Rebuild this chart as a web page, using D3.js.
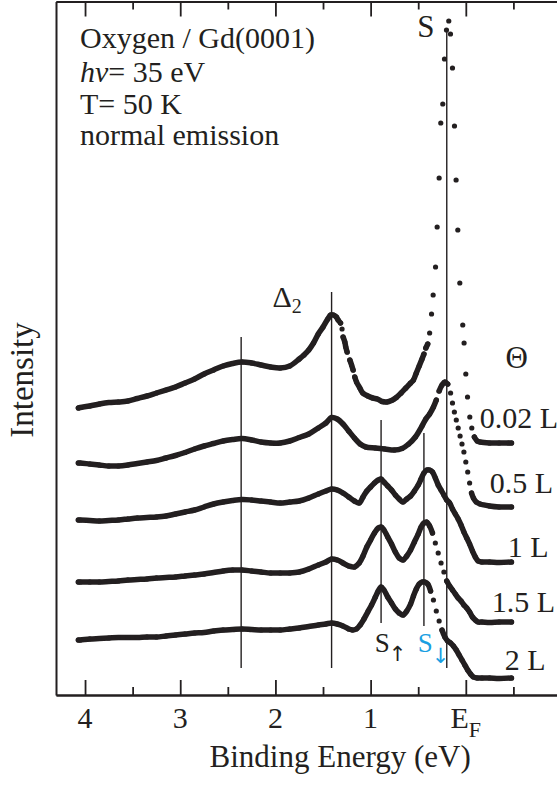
<!DOCTYPE html>
<html>
<head>
<meta charset="utf-8">
<script src="https://cdn.jsdelivr.net/npm/d3@7"></script>
<style>
  body { margin: 0; background: #fff; }
  svg text { font-family: "Liberation Serif", "Times New Roman", serif; fill: #231f20; }
</style>
</head>
<body>
<svg id="chart" width="557" height="785"></svg>
<script>
// Spectra, [binding energy (eV), intensity (arb. units, offset as plotted)]
const cov002 = [[4.07,2.87],[4.05,2.875],[3.95,2.89],[3.85,2.91],[3.75,2.925],[3.65,2.93],[3.55,2.94],[3.45,2.965],[3.35,2.99],[3.25,3.02],[3.15,3.05],[3.05,3.08],[2.95,3.12],[2.85,3.16],[2.75,3.21],[2.65,3.25],[2.55,3.29],[2.45,3.315],[2.35,3.33],[2.25,3.32],[2.15,3.30],[2.05,3.28],[1.95,3.27],[1.85,3.29],[1.75,3.36],[1.7,3.40],[1.65,3.45],[1.6,3.52],[1.55,3.61],[1.5,3.68],[1.45,3.76],[1.42,3.80],[1.39,3.80],[1.36,3.78],[1.341,3.75],[1.316,3.72],[1.30,3.66],[1.289,3.58],[1.271,3.53],[1.261,3.48],[1.247,3.43],[1.218,3.35],[1.200,3.30],[1.184,3.25],[1.166,3.18],[1.148,3.13],[1.113,3.07],[1.082,3.02],[1.029,2.99],[0.977,2.97],[0.93,2.96],[0.88,2.935],[0.83,2.93],[0.78,2.945],[0.73,2.975],[0.68,3.02],[0.63,3.07],[0.58,3.12],[0.55,3.15],[0.52,3.22],[0.49,3.29],[0.46,3.36],[0.44,3.41],[0.42,3.47],[0.40,3.51],[0.38,3.62],[0.36,3.81],[0.343,4.00],[0.318,4.28],[0.301,4.68],[0.280,5.17],[0.263,5.72],[0.242,5.91],[0.224,6.36],[0.203,6.65],[0.179,6.74],[0.161,6.61],[0.140,6.27],[0.119,5.69],[0.102,5.15],[0.084,4.65],[0.063,4.12],[0.032,3.70],[0.018,3.52],[0.0,3.21],[-0.018,2.98],[-0.042,2.78],[-0.063,2.67],[-0.09,2.58],[-0.12,2.54],[-0.15,2.53],[-0.25,2.52],[-0.35,2.52],[-0.45,2.52],[-0.48,2.52]];
const cov05 = [[4.07,2.32],[4.05,2.32],[3.95,2.31],[3.85,2.30],[3.75,2.29],[3.65,2.29],[3.55,2.30],[3.45,2.315],[3.35,2.33],[3.25,2.345],[3.15,2.37],[3.05,2.395],[2.95,2.425],[2.85,2.46],[2.75,2.49],[2.65,2.515],[2.55,2.54],[2.45,2.555],[2.35,2.565],[2.25,2.55],[2.15,2.53],[2.05,2.52],[1.95,2.52],[1.85,2.54],[1.75,2.575],[1.65,2.61],[1.55,2.67],[1.47,2.72],[1.41,2.775],[1.35,2.76],[1.29,2.71],[1.23,2.64],[1.17,2.57],[1.11,2.51],[1.05,2.48],[0.95,2.47],[0.85,2.46],[0.75,2.45],[0.67,2.465],[0.60,2.51],[0.53,2.58],[0.46,2.69],[0.42,2.76],[0.38,2.81],[0.34,2.88],[0.31,2.95],[0.28,3.04],[0.25,3.10],[0.22,3.13],[0.19,3.11],[0.16,3.02],[0.14,2.92],[0.12,2.83],[0.10,2.75],[0.08,2.67],[0.06,2.59],[0.04,2.51],[0.02,2.43],[0.00,2.33],[-0.02,2.23],[-0.04,2.12],[-0.06,2.02],[-0.08,1.97],[-0.11,1.93],[-0.15,1.91],[-0.25,1.89],[-0.35,1.88],[-0.48,1.88]];
const cov1 = [[4.07,1.75],[4.05,1.75],[3.95,1.745],[3.85,1.74],[3.75,1.745],[3.65,1.75],[3.55,1.76],[3.45,1.77],[3.35,1.775],[3.25,1.78],[3.15,1.79],[3.05,1.81],[2.95,1.83],[2.85,1.85],[2.75,1.88],[2.65,1.91],[2.55,1.93],[2.45,1.945],[2.35,1.955],[2.25,1.95],[2.15,1.94],[2.05,1.93],[1.95,1.92],[1.85,1.93],[1.75,1.94],[1.65,1.97],[1.55,2.01],[1.47,2.04],[1.41,2.06],[1.35,2.05],[1.29,2.02],[1.23,1.98],[1.17,1.94],[1.12,1.92],[1.08,1.98],[1.04,2.04],[1.00,2.08],[0.96,2.12],[0.92,2.15],[0.89,2.16],[0.86,2.13],[0.82,2.09],[0.78,2.05],[0.74,2.00],[0.70,1.96],[0.66,1.93],[0.62,1.96],[0.58,1.99],[0.54,2.04],[0.50,2.10],[0.47,2.16],[0.44,2.22],[0.41,2.25],[0.38,2.25],[0.35,2.23],[0.32,2.17],[0.29,2.10],[0.26,2.05],[0.23,2.00],[0.20,1.95],[0.17,1.92],[0.14,1.86],[0.11,1.81],[0.08,1.76],[0.05,1.70],[0.02,1.63],[-0.01,1.57],[-0.04,1.51],[-0.07,1.44],[-0.10,1.38],[-0.13,1.34],[-0.17,1.33],[-0.25,1.33],[-0.35,1.325],[-0.48,1.33]];
const cov15 = [[4.07,1.13],[4.05,1.13],[3.95,1.13],[3.85,1.13],[3.75,1.135],[3.65,1.14],[3.55,1.15],[3.45,1.155],[3.35,1.16],[3.25,1.17],[3.15,1.175],[3.05,1.18],[2.95,1.19],[2.85,1.20],[2.75,1.21],[2.65,1.225],[2.55,1.24],[2.45,1.25],[2.35,1.25],[2.25,1.24],[2.15,1.23],[2.05,1.22],[1.95,1.22],[1.85,1.22],[1.75,1.23],[1.65,1.26],[1.55,1.30],[1.47,1.33],[1.41,1.36],[1.35,1.35],[1.29,1.32],[1.23,1.29],[1.17,1.28],[1.12,1.32],[1.08,1.39],[1.04,1.48],[1.00,1.55],[0.96,1.62],[0.92,1.67],[0.89,1.68],[0.86,1.65],[0.82,1.58],[0.78,1.51],[0.74,1.43],[0.70,1.37],[0.66,1.35],[0.62,1.39],[0.58,1.45],[0.54,1.53],[0.50,1.61],[0.47,1.68],[0.44,1.72],[0.41,1.73],[0.38,1.69],[0.35,1.62],[0.32,1.52],[0.29,1.42],[0.26,1.32],[0.23,1.23],[0.20,1.14],[0.17,1.09],[0.14,1.05],[0.11,1.01],[0.08,0.97],[0.05,0.94],[0.02,0.90],[-0.01,0.87],[-0.04,0.83],[-0.07,0.78],[-0.10,0.75],[-0.13,0.73],[-0.17,0.73],[-0.25,0.725],[-0.35,0.73],[-0.48,0.73]];
const cov2 = [[4.07,0.55],[4.05,0.55],[3.95,0.56],[3.85,0.565],[3.75,0.57],[3.65,0.575],[3.55,0.575],[3.45,0.575],[3.35,0.58],[3.25,0.58],[3.15,0.59],[3.05,0.60],[2.95,0.61],[2.85,0.62],[2.75,0.625],[2.65,0.64],[2.55,0.65],[2.45,0.655],[2.35,0.66],[2.25,0.655],[2.15,0.65],[2.05,0.65],[1.95,0.65],[1.85,0.66],[1.75,0.67],[1.65,0.685],[1.55,0.70],[1.47,0.71],[1.41,0.72],[1.35,0.71],[1.29,0.69],[1.23,0.66],[1.19,0.65],[1.15,0.66],[1.11,0.70],[1.07,0.76],[1.03,0.83],[0.99,0.90],[0.95,0.98],[0.92,1.04],[0.89,1.08],[0.86,1.05],[0.82,0.98],[0.78,0.92],[0.74,0.86],[0.70,0.82],[0.66,0.80],[0.62,0.84],[0.58,0.91],[0.55,0.99],[0.52,1.06],[0.49,1.11],[0.46,1.13],[0.43,1.13],[0.40,1.11],[0.37,1.04],[0.34,0.95],[0.31,0.84],[0.28,0.74],[0.25,0.65],[0.22,0.58],[0.19,0.54],[0.16,0.52],[0.13,0.49],[0.10,0.45],[0.07,0.40],[0.04,0.35],[0.01,0.30],[-0.02,0.25],[-0.05,0.21],[-0.08,0.18],[-0.12,0.17],[-0.17,0.17],[-0.25,0.17],[-0.35,0.165],[-0.48,0.17]];

const spectra = [cov002, cov05, cov1, cov15, cov2];
const coverages = ["0.02 L", "0.5 L", "1 L", "1.5 L", "2 L"];
// where each coverage label sits, [E, I]
const labelAt = [[-0.147, 2.67], [-0.252, 2.02], [-0.441, 1.38], [-0.273, 0.83], [-0.41, 0.25]];

// marker lines: [E, top I, bottom I]
const markerLines = [[2.36, 3.58, 0.27], [1.41, 4.03, 0.27], [0.89, 2.75, 0.72], [0.44, 2.62, 0.69], [0.20, 6.64, 0.27]];

const majorTicks = [4, 3, 2, 1, 0];
const minorTicks = [3.5, 2.5, 1.5, 0.5, -0.5];
const tickLabels = ["4", "3", "2", "1", "E"];

const infoLines = ["Oxygen / Gd(0001)", "= 35 eV", "T= 50 K", "normal emission"];

const ink = "#231f20";
const cyan = "#1a9fe2";

const svg = d3.select("#chart");
const plotL = 56, plotR = 557, plotT = 1.5, plotB = 695;

const x = d3.scaleLinear().domain([4.305, -0.958]).range([plotL, plotR]);
const y = d3.scaleLinear().domain([0, 6.935]).range([plotB, plotT]);

// === frame & ticks ===
function styleAxis(g) {
  g.selectAll("path.domain").attr("stroke", ink).attr("stroke-width", 2);
  g.selectAll(".tick line").attr("stroke", ink).attr("stroke-width", 1.8);
  g.selectAll(".tick text").remove();
}

svg.append("g").attr("transform", `translate(0,${plotB})`)
  .call(d3.axisBottom(x).tickValues(majorTicks).tickSizeInner(-15).tickSizeOuter(0))
  .call(styleAxis);
svg.append("g").attr("transform", `translate(0,${plotB})`)
  .call(d3.axisBottom(x).tickValues(minorTicks).tickSizeInner(-8).tickSizeOuter(0))
  .call(styleAxis);
svg.append("g").attr("transform", `translate(0,${plotT})`)
  .call(d3.axisTop(x).tickValues(majorTicks).tickSizeInner(-15).tickSizeOuter(0))
  .call(styleAxis);
svg.append("g").attr("transform", `translate(0,${plotT})`)
  .call(d3.axisTop(x).tickValues(minorTicks).tickSizeInner(-8).tickSizeOuter(0))
  .call(styleAxis);
svg.append("g").attr("transform", `translate(${plotL},0)`)
  .call(d3.axisLeft(y).tickValues([]).tickSizeOuter(0))
  .call(styleAxis);

// tick labels
const tl = svg.append("g").attr("font-size", 30);
tl.selectAll("text").data(majorTicks).join("text")
  .attr("x", d => x(d))
  .attr("y", 728)
  .attr("text-anchor", "middle")
  .text((d, i) => tickLabels[i])
  .filter(d => d === 0)
  .append("tspan").attr("dy", 9).attr("font-size", 22).text("F");

// axis titles
svg.append("text")
  .attr("x", x(1.32))
  .attr("y", 767)
  .attr("text-anchor", "middle")
  .attr("font-size", 31)
  .text("Binding Energy (eV)");

svg.append("text")
  .attr("transform", `translate(33,${(y(3.8) + y(2.5)) / 2}) rotate(-90)`)
  .attr("text-anchor", "middle")
  .attr("font-size", 33)
  .text("Intensity");

// === marker lines ===
svg.append("g").selectAll("line").data(markerLines).join("line")
  .attr("x1", d => x(d[0])).attr("x2", d => x(d[0]))
  .attr("y1", d => y(d[1])).attr("y2", d => y(d[2]))
  .attr("stroke", ink).attr("stroke-width", 1.4);

// === spectra ===
const line = d3.line().x(d => x(d[0])).y(d => y(d[1])).curve(d3.curveCatmullRom);

function runs(pts) {
  // steep stretches stay as loose dots (measured step was ~0.02 eV)
  const out = [];
  let cur = [pts[0]];
  for (let i = 1; i < pts.length; i++) {
    const dy = Math.abs(y(pts[i][1]) - y(pts[i - 1][1]));
    const steps = Math.max(1, Math.abs(pts[i][0] - pts[i - 1][0]) / 0.02);
    if (dy / steps > 5.5) { out.push(cur); cur = [pts[i]]; }
    else cur.push(pts[i]);
  }
  out.push(cur);
  return out.filter(r => r.length > 1);
}

const specG = svg.append("g");
spectra.forEach(pts => {
  specG.append("g").selectAll("path").data(runs(pts)).join("path")
    .attr("d", line)
    .attr("fill", "none")
    .attr("stroke", ink)
    .attr("stroke-width", 5.5)
    .attr("stroke-linecap", "round")
    .attr("stroke-linejoin", "round");
  specG.append("g").selectAll("circle").data(pts).join("circle")
    .attr("cx", d => x(d[0])).attr("cy", d => y(d[1]))
    .attr("r", 2.6).attr("fill", ink);
});

// coverage labels
svg.append("g").attr("font-size", 30).selectAll("text").data(coverages).join("text")
  .attr("x", (d, i) => x(labelAt[i][0]))
  .attr("y", (d, i) => y(labelAt[i][1]))
  .text(d => d);

svg.append("text")
  .attr("x", x(-0.535)).attr("y", y(3.27))
  .attr("text-anchor", "middle").attr("font-size", 31)
  .text("Θ");

// peak annotations
svg.append("text")
  .attr("x", x(0.42)).attr("y", y(6.58))
  .attr("text-anchor", "middle").attr("font-size", 31)
  .text("S");

const d2 = svg.append("text")
  .attr("x", x(2.03)).attr("y", y(3.88))
  .attr("font-size", 30)
  .text("Δ");
d2.append("tspan").attr("dy", 6).attr("font-size", 20).text("2");

const sUp = svg.append("text")
  .attr("x", x(0.956)).attr("y", y(0.43))
  .attr("font-size", 27)
  .text("S");
sUp.append("tspan").attr("dy", 9).attr("dx", -1).attr("font-size", 21).attr("font-family", "DejaVu Sans").text("↑");

const sDn = svg.append("text")
  .attr("x", x(0.504)).attr("y", y(0.43))
  .attr("font-size", 27)
  .style("fill", cyan)
  .text("S");
sDn.append("tspan").attr("dy", 11).attr("dx", -1).attr("font-size", 21).attr("font-family", "DejaVu Sans").text("↓");

// sample info
const info = svg.append("g").attr("font-size", 30);
const infoY = [48, 82, 114, 145];
infoLines.forEach((t, i) => {
  const tx = info.append("text").attr("x", 80).attr("y", infoY[i]);
  if (i === 1) tx.append("tspan").attr("font-style", "italic").text("hν");
  tx.append("tspan").text(t);
});
</script>
</body>
</html>
